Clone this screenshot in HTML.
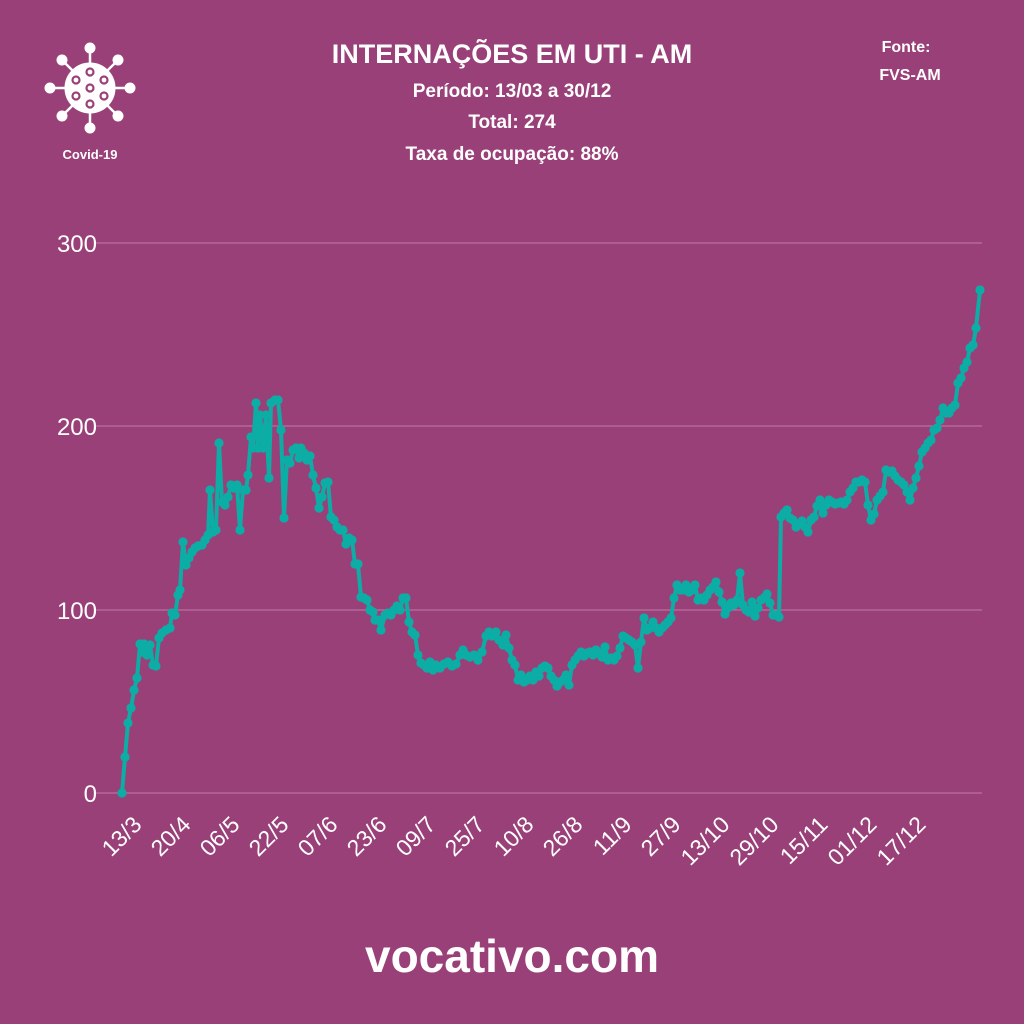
<!DOCTYPE html>
<html><head><meta charset="utf-8"><style>
html,body{margin:0;padding:0;background:#9a4079;}
svg{display:block}
text{font-family:"Liberation Sans",sans-serif;fill:#fff}
</style></head><body>
<svg width="1024" height="1024" viewBox="0 0 1024 1024" xmlns="http://www.w3.org/2000/svg">
<rect width="1024" height="1024" fill="#9a4079"/>
<defs><marker id="m" markerWidth="12" markerHeight="12" refX="6" refY="6" markerUnits="userSpaceOnUse"><circle cx="6" cy="6" r="4.6" fill="#0cada5"/></marker></defs>
<!-- icon -->
<g fill="#fff" stroke="#fff">
<g stroke-width="2.5">
<line x1="90" y1="88" x2="90" y2="48"/><line x1="90" y1="88" x2="90" y2="128"/>
<line x1="90" y1="88" x2="50" y2="88"/><line x1="90" y1="88" x2="130" y2="88"/>
<line x1="90" y1="88" x2="62" y2="60"/><line x1="90" y1="88" x2="118" y2="60"/>
<line x1="90" y1="88" x2="62" y2="116"/><line x1="90" y1="88" x2="118" y2="116"/>
</g>
<circle cx="90" cy="48" r="5"/><circle cx="90" cy="128" r="5"/><circle cx="50" cy="88" r="5"/><circle cx="130" cy="88" r="5"/>
<circle cx="62" cy="60" r="5"/><circle cx="118" cy="60" r="5"/><circle cx="62" cy="116" r="5"/><circle cx="118" cy="116" r="5"/>
<circle cx="90" cy="88" r="25"/>
</g>
<g fill="none" stroke="#9a4079" stroke-width="2.2">
<circle cx="90" cy="72" r="3.5"/><circle cx="104" cy="80" r="3.5"/><circle cx="76" cy="80" r="3.5"/><circle cx="90" cy="88" r="3.5"/>
<circle cx="76" cy="96" r="3.5"/><circle cx="104" cy="96" r="3.5"/><circle cx="90" cy="104" r="3.5"/>
</g>
<text x="90" y="159" font-size="13" font-weight="bold" text-anchor="middle">Covid-19</text>
<!-- titles -->
<text x="512" y="63" font-size="27" font-weight="bold" text-anchor="middle">INTERNAÇÕES EM UTI - AM</text>
<text x="512" y="97" font-size="19" font-weight="bold" text-anchor="middle">Período: 13/03 a 30/12</text>
<text x="512" y="128" font-size="19" font-weight="bold" text-anchor="middle">Total: 274</text>
<text x="512" y="160" font-size="19" font-weight="bold" text-anchor="middle">Taxa de ocupação: 88%</text>
<text x="906" y="52" font-size="16" font-weight="bold" text-anchor="middle">Fonte:</text>
<text x="910" y="80" font-size="16" font-weight="bold" text-anchor="middle">FVS-AM</text>
<!-- grid -->
<g stroke="#b8709f" stroke-width="1.3">
<line x1="95" y1="243" x2="982" y2="243"/><line x1="95" y1="426" x2="982" y2="426"/>
<line x1="95" y1="610" x2="982" y2="610"/><line x1="95" y1="793" x2="982" y2="793"/>
</g>
<g font-size="24" text-anchor="end">
<text x="97" y="252">300</text><text x="97" y="435">200</text><text x="97" y="619">100</text><text x="97" y="802">0</text>
</g>
<g font-size="23" text-anchor="end">
<text transform="translate(143,826) rotate(-45)">13/3</text>
<text transform="translate(192,826) rotate(-45)">20/4</text>
<text transform="translate(241,826) rotate(-45)">06/5</text>
<text transform="translate(290,826) rotate(-45)">22/5</text>
<text transform="translate(339,826) rotate(-45)">07/6</text>
<text transform="translate(388,826) rotate(-45)">23/6</text>
<text transform="translate(437,826) rotate(-45)">09/7</text>
<text transform="translate(486,826) rotate(-45)">25/7</text>
<text transform="translate(535,826) rotate(-45)">10/8</text>
<text transform="translate(584,826) rotate(-45)">26/8</text>
<text transform="translate(633,826) rotate(-45)">11/9</text>
<text transform="translate(682,826) rotate(-45)">27/9</text>
<text transform="translate(731,826) rotate(-45)">13/10</text>
<text transform="translate(780,826) rotate(-45)">29/10</text>
<text transform="translate(829,826) rotate(-45)">15/11</text>
<text transform="translate(878,826) rotate(-45)">01/12</text>
<text transform="translate(927,826) rotate(-45)">17/12</text>
</g>
<polyline fill="none" stroke="#0cada5" stroke-width="4" stroke-linejoin="round" marker-start="url(#m)" marker-mid="url(#m)" marker-end="url(#m)" points="122,793 125,757 128,723 131,708 134,690 137,678 140,644 142,652 144,644 147,655 150,645 153,665 156,666 159,638 162,633 166,630 170,628 172,613 175,615 178,595 180,590 183,542 186,565 189,558 192,552 195,548 198,546 202,545 205,540 208,535 210,490 213,532 216,530 219,443 222,502 225,505 228,497 231,485 234,488 237,485 240,530 243,490 246,490 248,475 251,437 253,448 256,403 258,448 260,415 263,448 266,415 269,478 271,403 275,400 278,400 281,430 284,518 287,460 290,463 293,450 296,448 299,458 301,448 304,453 307,460 310,456 313,475 316,488 319,508 322,497 325,483 328,482 331,517 334,520 337,527 340,530 343,530 346,544 349,538 352,540 355,564 358,564 361,597 364,598 367,600 370,610 373,612 375,620 378,620 381,630 385,615 388,613 391,615 394,610 397,606 400,610 403,598 406,598 409,622 412,632 415,635 418,655 421,663 424,665 427,668 430,662 433,670 436,665 440,668 444,664 448,662 452,666 456,664 460,655 463,650 466,655 470,657 474,655 478,660 482,652 486,636 489,632 492,636 496,632 499,640 503,645 506,635 509,648 512,660 515,665 518,680 521,675 524,682 527,680 530,676 533,680 536,672 539,676 542,668 545,666 548,668 551,676 554,680 557,686 560,682 563,680 566,675 569,685 572,665 575,660 578,656 581,652 584,656 587,653 590,652 593,655 596,650 599,653 602,657 605,647 608,660 611,658 614,660 617,656 620,648 623,636 626,638 629,640 632,642 635,645 638,668 641,642 644,618 647,630 650,628 653,622 656,628 659,632 662,628 665,625 668,622 671,618 674,598 677,585 680,590 683,590 686,585 689,592 692,590 695,585 698,600 701,598 704,600 707,595 710,590 713,587 716,582 719,592 722,602 725,614 728,608 731,603 734,605 737,600 740,573 743,605 746,610 749,612 752,602 755,616 758,608 761,600 764,598 767,594 770,603 773,615 776,615 779,617 781,517 784,513 787,510 790,518 793,520 796,527 799,524 802,521 805,527 808,532 811,520 814,517 817,506 820,500 823,513 826,505 829,500 832,502 835,504 838,503 841,502 844,504 847,500 850,492 853,488 856,482 859,482 862,480 865,482 868,505 871,520 874,514 877,500 880,496 883,492 886,470 889,472 892,471 895,476 898,480 901,482 904,485 907,492 910,500 913,488 916,478 919,466 922,452 925,448 928,443 931,440 934,430 937,428 940,420 943,408 946,413 949,413 952,408 955,405 958,383 961,378 964,368 967,362 970,348 973,345 976,328 980,290"/>
<text x="512" y="972" font-size="46" font-weight="bold" text-anchor="middle">vocativo.com</text>
</svg>
</body></html>
